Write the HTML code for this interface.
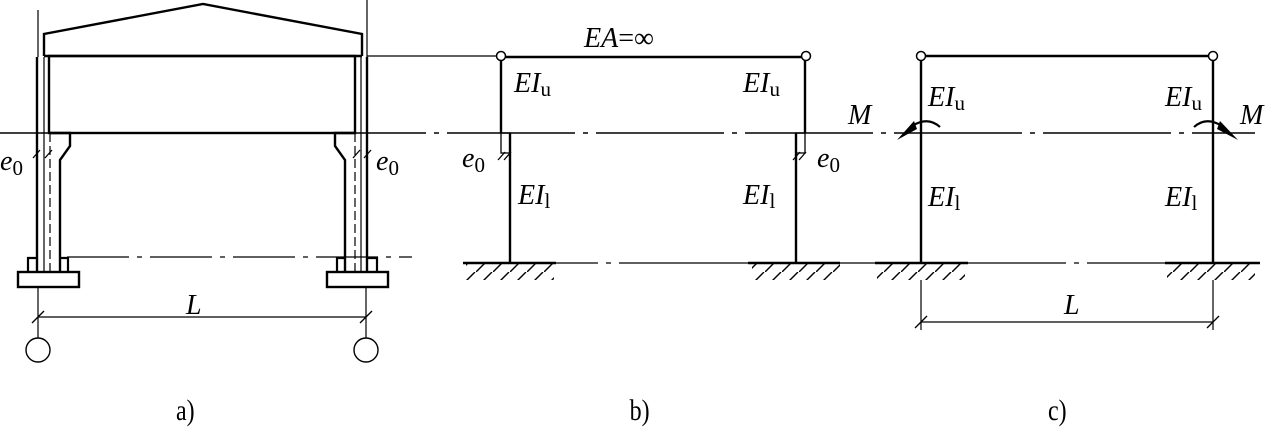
<!DOCTYPE html>
<html><head><meta charset="utf-8"><style>
html,body{margin:0;padding:0;background:#fff;}
svg{display:block}
text{font-family:"Liberation Serif",serif;fill:#000}
.it{font-style:italic}
</style></head><body>
<svg width="1272" height="427" viewBox="0 0 1272 427" xmlns="http://www.w3.org/2000/svg">
<defs>
<pattern id="h" width="17" height="16" patternUnits="userSpaceOnUse">
<line x1="0" y1="16" x2="16" y2="0" stroke="#000" stroke-width="1.4"/>
</pattern>
</defs>
<g stroke="#000" fill="none">
<line x1="0" y1="133" x2="1255" y2="133" stroke-width="1.4" stroke-dasharray="128,8,5,8"/>
<line x1="67" y1="257" x2="412" y2="257" stroke-width="1.3" stroke-dasharray="62,8,5,8"/>
<line x1="463" y1="263" x2="1260" y2="263" stroke-width="1.3" stroke-dasharray="135,8,5,8"/>
<line x1="367" y1="56" x2="500" y2="56" stroke-width="1.2"/>

<polyline points="44,56 44,34 203,4 362,34 362,56" stroke-width="2.4"/>
<line x1="44" y1="56" x2="362" y2="56" stroke-width="2.4"/>
<rect x="49" y="56" width="306" height="77" stroke-width="2.4"/>
<line x1="38" y1="10" x2="38" y2="57" stroke-width="1.2"/>
<line x1="367" y1="0" x2="367" y2="57" stroke-width="1.2"/>
<polyline points="37,57 37,272" stroke-width="2.4"/>
<polyline points="50,133 70,133 70,146 60,160 60,272" stroke-width="2.4"/>
<line x1="44" y1="57" x2="44" y2="272" stroke-width="1.2"/>
<line x1="50" y1="133" x2="50" y2="272" stroke-width="1.2" stroke-dasharray="9,4"/>
<polyline points="28,272 28,258 37,258" stroke-width="2.2"/>
<polyline points="60,258 68,258 68,272" stroke-width="2.2"/>
<rect x="18" y="272" width="61" height="15" stroke-width="2.4"/>
<polyline points="367,57 367,272" stroke-width="2.4"/>
<polyline points="355,133 335,133 335,146 345,160 345,272" stroke-width="2.4"/>
<line x1="361" y1="57" x2="361" y2="272" stroke-width="1.2"/>
<line x1="355" y1="133" x2="355" y2="272" stroke-width="1.2" stroke-dasharray="9,4"/>
<polyline points="337,272 337,258 345,258" stroke-width="2.2"/>
<polyline points="367,258 377,258 377,272" stroke-width="2.2"/>
<rect x="327" y="272" width="61" height="15" stroke-width="2.4"/>
<line x1="33" y1="158" x2="40" y2="150" stroke-width="1.3"/>
<line x1="45" y1="158" x2="52" y2="150" stroke-width="1.3"/>
<line x1="353" y1="158" x2="360" y2="150" stroke-width="1.3"/>
<line x1="364" y1="158" x2="371" y2="150" stroke-width="1.3"/>
<line x1="38" y1="287" x2="38" y2="338" stroke-width="1.2"/>
<line x1="366" y1="287" x2="366" y2="338" stroke-width="1.2"/>
<circle cx="38" cy="350" r="12" stroke-width="1.4"/>
<circle cx="366" cy="350" r="12" stroke-width="1.4"/>
<line x1="38" y1="317" x2="366" y2="317" stroke-width="1.2"/>
<line x1="32" y1="323" x2="44" y2="311" stroke-width="1.3"/>
<line x1="360" y1="323" x2="372" y2="311" stroke-width="1.3"/>

<line x1="501" y1="57" x2="806" y2="57" stroke-width="2.4"/>
<line x1="501" y1="57" x2="501" y2="133" stroke-width="2.4"/>
<line x1="805" y1="57" x2="805" y2="133" stroke-width="2.4"/>
<rect x="501" y="133" width="9" height="20" stroke-width="1.3"/>
<rect x="796" y="133" width="9" height="20" stroke-width="1.3"/>
<line x1="510" y1="133" x2="510" y2="263" stroke-width="2.4"/>
<line x1="796" y1="133" x2="796" y2="263" stroke-width="2.4"/>
<line x1="498" y1="160" x2="505" y2="152" stroke-width="1.3"/>
<line x1="504" y1="160" x2="511" y2="152" stroke-width="1.3"/>
<line x1="793" y1="160" x2="800" y2="152" stroke-width="1.3"/>
<line x1="799" y1="160" x2="806" y2="152" stroke-width="1.3"/>
<circle cx="501" cy="56" r="4.5" fill="#fff" stroke-width="1.5"/>
<circle cx="806" cy="56" r="4.5" fill="#fff" stroke-width="1.5"/>
<line x1="463" y1="263" x2="556" y2="263" stroke-width="2.6"/>
<line x1="748" y1="263" x2="840" y2="263" stroke-width="2.6"/>
<rect x="466" y="264" width="88" height="16" fill="url(#h)" stroke="none"/>
<rect x="752" y="264" width="88" height="16" fill="url(#h)" stroke="none"/>

<line x1="921" y1="56" x2="1213" y2="56" stroke-width="2.4"/>
<line x1="921" y1="56" x2="921" y2="263" stroke-width="2.4"/>
<line x1="1213" y1="56" x2="1213" y2="263" stroke-width="2.4"/>
<circle cx="921" cy="56" r="4.5" fill="#fff" stroke-width="1.5"/>
<circle cx="1213" cy="56" r="4.5" fill="#fff" stroke-width="1.5"/>
<line x1="875" y1="263" x2="968" y2="263" stroke-width="2.6"/>
<line x1="1165" y1="263" x2="1260" y2="263" stroke-width="2.6"/>
<rect x="877" y="264" width="88" height="16" fill="url(#h)" stroke="none"/>
<rect x="1167" y="264" width="88" height="16" fill="url(#h)" stroke="none"/>
<line x1="921" y1="280" x2="921" y2="330" stroke-width="1.2"/>
<line x1="1213" y1="280" x2="1213" y2="330" stroke-width="1.2"/>
<line x1="921" y1="322" x2="1213" y2="322" stroke-width="1.2"/>
<line x1="915" y1="328" x2="927" y2="316" stroke-width="1.3"/>
<line x1="1207" y1="328" x2="1219" y2="316" stroke-width="1.3"/>
<path d="M940,127 Q928,116 912,126" stroke-width="2.2"/>
<path d="M1194,127 Q1206,116 1222,126" stroke-width="2.2"/>
</g>
<polygon points="897,140 914,121 917,129" fill="#000"/>
<polygon points="1238,140 1220,121 1217,129" fill="#000"/>

<g font-size="28">
<text x="0" y="170" class="it">e<tspan font-style="normal" font-size="21" dy="5">0</tspan></text>
<text x="376" y="170" class="it">e<tspan font-style="normal" font-size="21" dy="5">0</tspan></text>
<text x="186" y="314" class="it">L</text>

<text x="584" y="47" class="it">EA<tspan font-style="normal">=∞</tspan></text>
<text x="514" y="92" class="it">EI<tspan font-style="normal" font-size="21" dy="4">u</tspan></text>
<text x="743" y="92" class="it">EI<tspan font-style="normal" font-size="21" dy="4">u</tspan></text>
<text x="462" y="167" class="it">e<tspan font-style="normal" font-size="21" dy="5">0</tspan></text>
<text x="817" y="167" class="it">e<tspan font-style="normal" font-size="21" dy="5">0</tspan></text>
<text x="518" y="204" class="it">EI<tspan font-style="normal" font-size="21" dy="4">l</tspan></text>
<text x="743" y="204" class="it">EI<tspan font-style="normal" font-size="21" dy="4">l</tspan></text>

<text x="928" y="106" class="it">EI<tspan font-style="normal" font-size="21" dy="4">u</tspan></text>
<text x="1165" y="106" class="it">EI<tspan font-style="normal" font-size="21" dy="4">u</tspan></text>
<text x="928" y="206" class="it">EI<tspan font-style="normal" font-size="21" dy="4">l</tspan></text>
<text x="1165" y="206" class="it">EI<tspan font-style="normal" font-size="21" dy="4">l</tspan></text>
<text x="848" y="124" class="it">M</text>
<text x="1240" y="124" class="it">M</text>
<text x="1064" y="314" class="it">L</text>
</g>
<g font-size="30" transform="scale(0.8,1)">
<text x="220" y="420">a)</text>
<text x="787" y="420">b)</text>
<text x="1310" y="420">c)</text>
</g>
</svg>
</body></html>
